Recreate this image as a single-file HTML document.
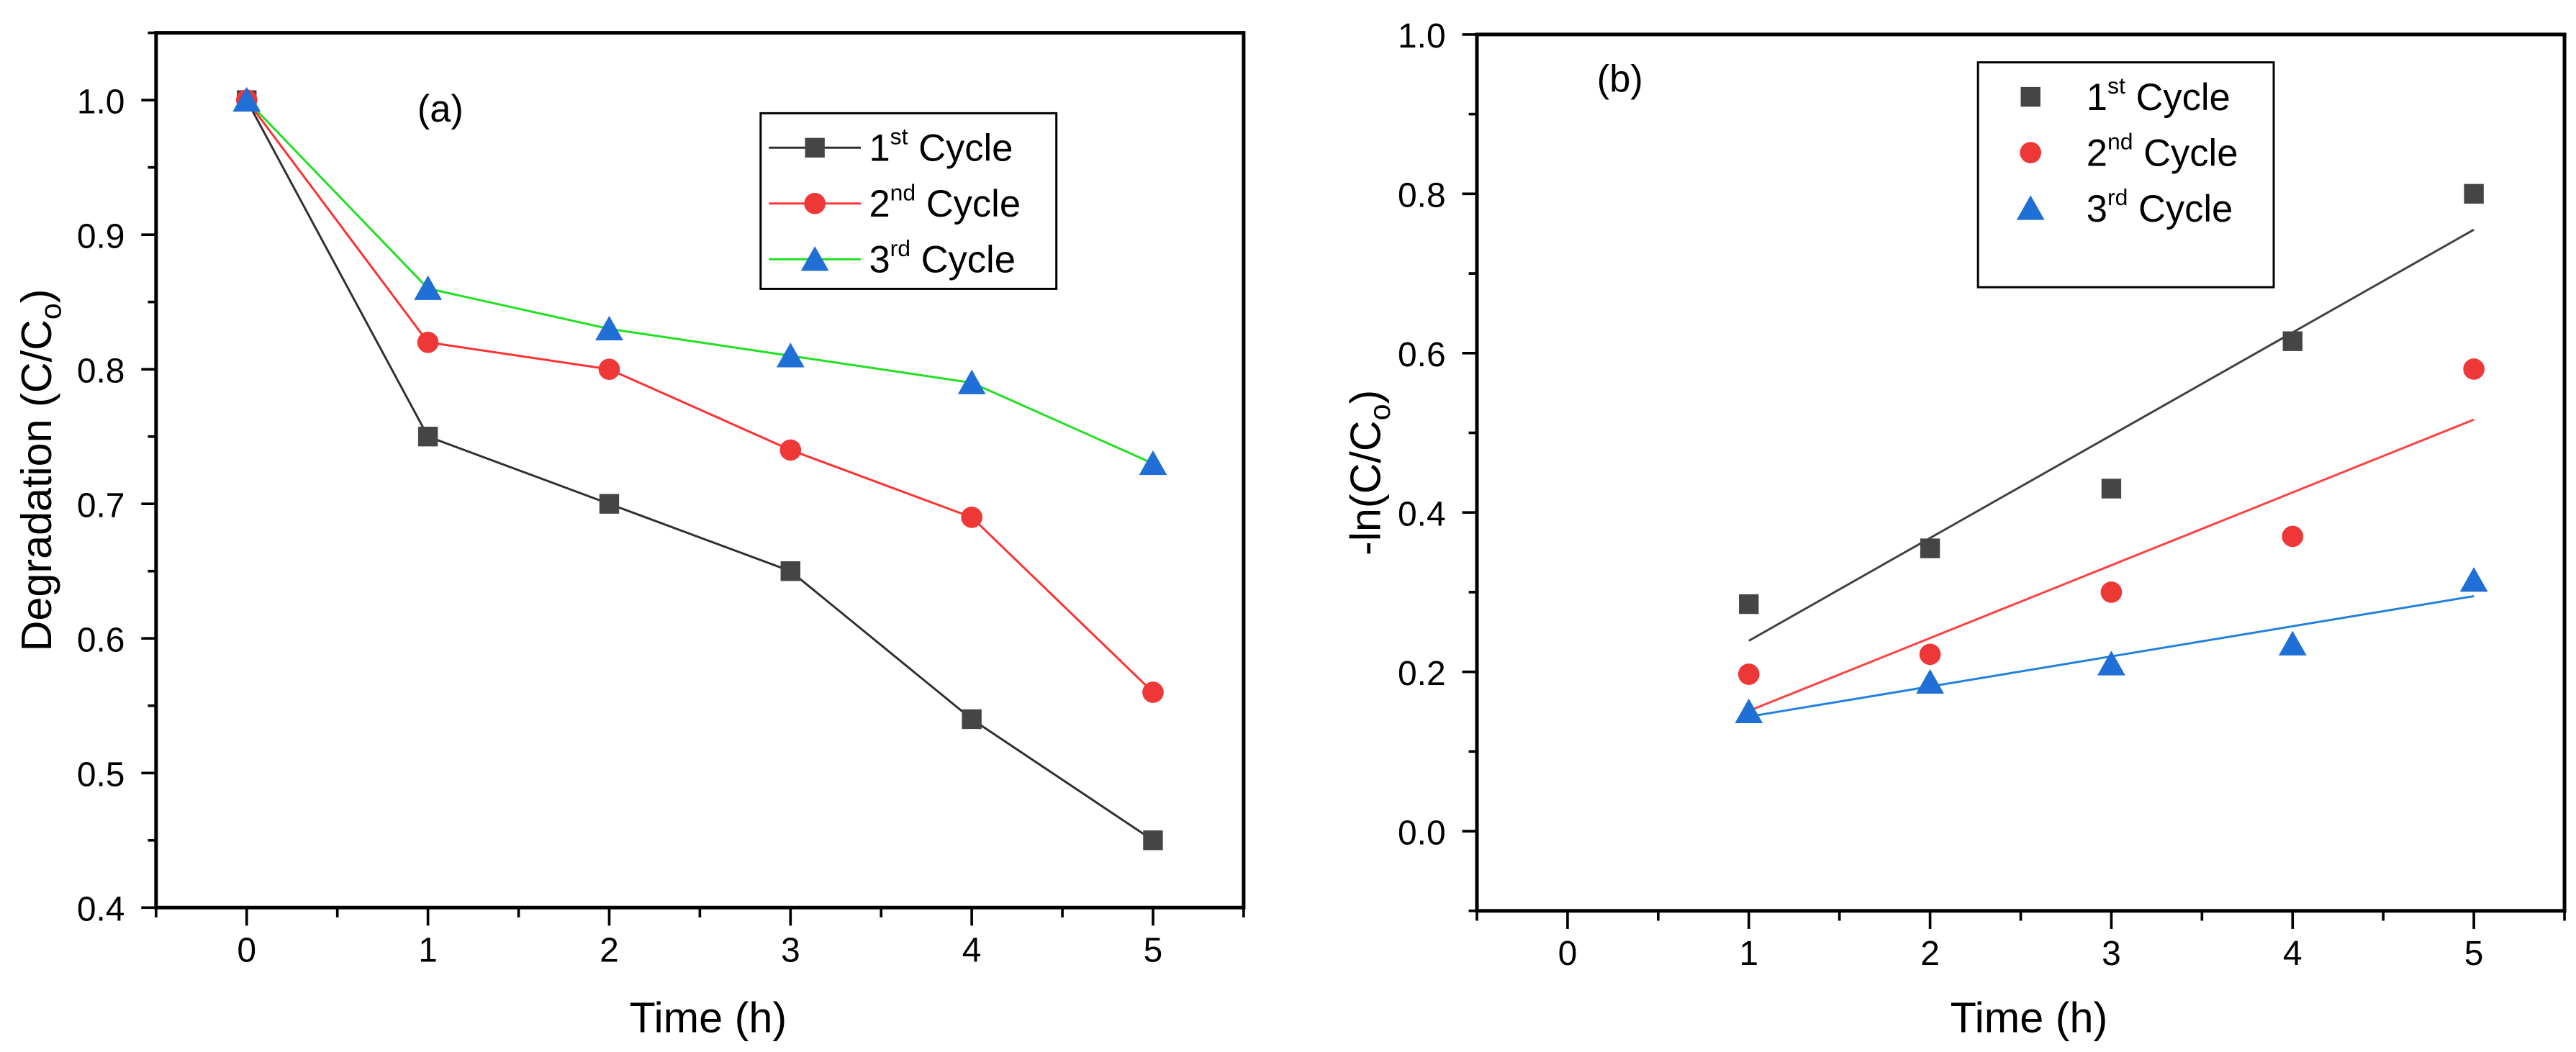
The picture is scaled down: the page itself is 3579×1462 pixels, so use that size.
<!DOCTYPE html>
<html><head><meta charset="utf-8"><style>
html,body{margin:0;padding:0;background:#fff;}
svg{display:block;font-family:"Liberation Sans",Arial,sans-serif;}
</style></head><body>
<svg id="fig" width="3579" height="1462" viewBox="0 0 1568 641" preserveAspectRatio="none" xmlns="http://www.w3.org/2000/svg"></svg>
<script>
const timesA = [0,1,2,3,4,5];
const cycle1A = [1.0,0.75,0.70,0.65,0.54,0.45];
const cycle2A = [1.0,0.82,0.80,0.74,0.69,0.56];
const cycle3A = [1.0,0.86,0.83,0.81,0.79,0.73];
const timesB = [1,2,3,4,5];
const cycle1B = [0.285,0.355,0.43,0.615,0.80];
const cycle2B = [0.197,0.222,0.30,0.37,0.58];
const cycle3B = [0.150,0.187,0.21,0.235,0.315];
const xTicks = [0,1,2,3,4,5];
const yTicksA = [0.4,0.5,0.6,0.7,0.8,0.9,1.0];
const yTicksB = [0.0,0.2,0.4,0.6,0.8,1.0];

const NS="http://www.w3.org/2000/svg";
const svg=document.getElementById('fig');
function mk(tag,attrs,parent){const e=document.createElementNS(NS,tag);for(const k in attrs)e.setAttribute(k,attrs[k]);(parent||svg).appendChild(e);return e;}

function panel(cfg){
  const g=mk('g',{});
  
  
  const sx=v=>cfg.L+(v-cfg.xmin)/(cfg.xmax-cfg.xmin)*(cfg.R-cfg.L);
  const sy=v=>cfg.B-(v-cfg.ymin)/(cfg.ymax-cfg.ymin)*(cfg.B-cfg.T);
  const frame=mk('rect',{x:cfg.L,y:cfg.T,width:cfg.R-cfg.L,height:cfg.B-cfg.T,fill:'none',stroke:'#000','stroke-width':2.2},g);
  
  
  for(let v=-0.5;v<=5.5001;v+=0.5){
    const major=Math.abs(v-Math.round(v))<1e-6;
    mk('line',{x1:sx(v),x2:sx(v),y1:cfg.B,y2:cfg.B+(major?11:6),stroke:'#000','stroke-width':1.6},g);
  }
  xTicks.forEach(v=>{const t=mk('text',{x:sx(v),y:cfg.B+33,'font-size':21,'text-anchor':'middle',fill:'#000'},g);t.textContent=v;
    
    });
  const st=cfg.ystep/2;
  for(let v=cfg.yticks[0]-st*Math.floor((cfg.yticks[0]-cfg.ymin)/st+1e-9);v<=cfg.ymax+1e-6;v+=st){
    const major=cfg.yticks.some(t=>Math.abs(t-v)<1e-6);
    mk('line',{x1:cfg.L,x2:cfg.L-(major?9:5),y1:sy(v),y2:sy(v),stroke:'#000','stroke-width':1.6},g);
  }
  cfg.yticks.forEach(v=>{const t=mk('text',{x:cfg.L-19,y:sy(v)+8,'font-size':21,'text-anchor':'end',fill:'#000'},g);t.textContent=v.toFixed(1);
    
    });
  const xt=mk('text',{x:(cfg.L+cfg.R)/2+5,y:629,'font-size':26,'text-anchor':'middle',fill:'#000'},g);
  xt.textContent='Time (h)';
  
  
  const yt=mk('text',{transform:`translate(${cfg.ytx},${(cfg.T+cfg.B)/2}) rotate(-90)`,'font-size':26,'text-anchor':'middle',fill:'#000'},g);
  yt.innerHTML=cfg.ytitle;
  
  
  const lab=mk('text',{x:cfg.labx,y:cfg.laby,'font-size':23,fill:'#000'},g);
  lab.textContent=cfg.label;
  
  
  return {g,sx,sy};
}
function marker(g,type,x,y,color){
  let e;
  if(type==='sq') e=mk('rect',{x:x-6,y:y-6,width:12,height:12,fill:color},g);
  else if(type==='ci') e=mk('circle',{cx:x,cy:y,r:6.5,fill:color},g);
  else e=mk('polygon',{points:`${x},${y-8} ${x-8.5},${y+7} ${x+8.5},${y+7}`,fill:color},g);
  return e;
}
const colors=['#454545','#ee3838','#1f6fd6'];
const lineColors=['#303030','#ff3030','#20e020'];
const types=['sq','ci','tr'];

const A=panel({name:'panel-a',L:95,R:757,T:20,B:553,xmin:-0.5,xmax:5.5,ymin:0.4,ymax:1.05,yticks:yTicksA,ystep:0.1,ytx:31,
  ytitle:'Degradation (C/C<tspan font-size="18" dy="6">o</tspan><tspan dy="-6">)</tspan>',label:'(a)',labx:254,laby:74});
[cycle1A,cycle2A,cycle3A].forEach((s,i)=>{
  const pts=timesA.map((t,j)=>A.sx(t)+','+A.sy(s[j])).join(' ');
  const pl=mk('polyline',{points:pts,fill:'none',stroke:lineColors[i],'stroke-width':1.3},A.g);
  
  
});
[cycle1A,cycle2A,cycle3A].forEach((s,i)=>{
  timesA.forEach((t,j)=>{const m=marker(A.g,types[i],A.sx(t),A.sy(s[j]),colors[i]);
    
    });
});
const supA=['st','nd','rd'];
const legA=mk('g',{},A.g);


mk('rect',{x:463,y:69,width:180,height:107,fill:'#fff',stroke:'#000','stroke-width':1.3},legA);
supA.forEach((s,i)=>{
  const y=90+i*34;
  mk('line',{x1:468,x2:524,y1:y,y2:y,stroke:lineColors[i],'stroke-width':1.3},legA);
  marker(legA,types[i],496,y,colors[i]);
  const t=mk('text',{x:529,y:y+8,'font-size':23,fill:'#000'},legA);
  t.innerHTML=`${i+1}<tspan font-size="14" dy="-10">${s}</tspan><tspan dy="10"> Cycle</tspan>`;
  
  
});

const B=panel({name:'panel-b',L:899,R:1561,T:21,B:555,xmin:-0.5,xmax:5.5,ymin:-0.1,ymax:1.0,yticks:yTicksB,ystep:0.2,ytx:840,
  ytitle:'-ln(C/C<tspan font-size="18" dy="6">o</tspan><tspan dy="-6">)</tspan>',label:'(b)',labx:972,laby:56});
const fitColors=['#404040','#ff4040','#2080e0'];
[cycle1B,cycle2B,cycle3B].forEach((s,i)=>{
  const n=timesB.length, mx=timesB.reduce((a,b)=>a+b)/n, my=s.reduce((a,b)=>a+b)/n;
  let num=0,den=0; timesB.forEach((x,j)=>{num+=(x-mx)*(s[j]-my);den+=(x-mx)*(x-mx);});
  const k=num/den,b0=my-k*mx;
  const x0=timesB[0],x1=timesB[n-1];
  const l=mk('line',{x1:B.sx(x0),y1:B.sy(b0+k*x0),x2:B.sx(x1),y2:B.sy(b0+k*x1),stroke:fitColors[i],'stroke-width':1.3},B.g);
  
  
});
[cycle1B,cycle2B,cycle3B].forEach((s,i)=>{
  timesB.forEach((t,j)=>{const m=marker(B.g,types[i],B.sx(t),B.sy(s[j]),colors[i]);
    
    });
});
const legB=mk('g',{},B.g);


mk('rect',{x:1204,y:38,width:180,height:137,fill:'#fff',stroke:'#000','stroke-width':1.3},legB);
supA.forEach((s,i)=>{
  const y=59+i*34;
  marker(legB,types[i],1236,y,colors[i]);
  const t=mk('text',{x:1270,y:y+8,'font-size':23,fill:'#000'},legB);
  t.innerHTML=`${i+1}<tspan font-size="14" dy="-10">${s}</tspan><tspan dy="10"> Cycle</tspan>`;
  
  
});
</script>
</body></html>
